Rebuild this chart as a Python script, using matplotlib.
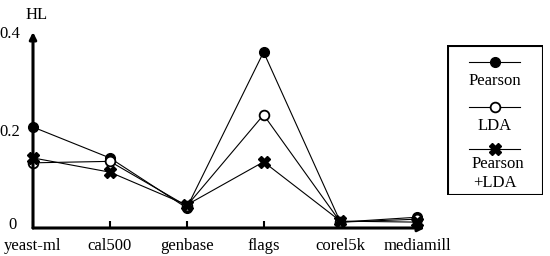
import matplotlib.pyplot as plt
import matplotlib.transforms as mtransforms
from matplotlib.lines import Line2D
from matplotlib.patches import Rectangle

plt.rcParams['font.family'] = ['Liberation Serif', 'DejaVu Serif']

datasets = ['yeast-ml', 'cal500', 'genbase', 'flags', 'corel5k', 'mediamill']
pearson = [0.206, 0.143, 0.041, 0.359, 0.012, 0.022]
lda = [0.133, 0.136, 0.045, 0.231, 0.012, 0.018]
pearson_lda = [0.143, 0.114, 0.047, 0.135, 0.014, 0.012]
y_ticks = [0, 0.2, 0.4]
y_ticklabels = ['0', '0.2', '0.4']

fig = plt.figure(figsize=(5.5, 2.56), dpi=100)
ax = fig.add_axes([33 / 550, 28 / 256, 392 / 550, 196 / 256])

x = list(range(len(datasets)))
ax.plot(x, pearson, color='black', lw=0.8, marker='o', ms=7,
        mfc='black', mec='black', clip_on=False, zorder=3)
ax.plot(x, lda, color='black', lw=0.8, marker='o', ms=7,
        mfc='white', mec='black', mew=1.3, clip_on=False, zorder=3)
ax.plot(x, pearson_lda, color='black', lw=0.8, marker='X', ms=8,
        mfc='black', mec='black', clip_on=False, zorder=3)

ax.set_xlim(0, 5.1)
ax.set_ylim(0, 0.4)
for s in ax.spines.values():
    s.set_visible(False)

# axis arrows
ax.annotate('', xy=(1, 0), xycoords='axes fraction', xytext=(0, 0),
            arrowprops=dict(arrowstyle='-|>', color='black', lw=2.2,
                            mutation_scale=10, shrinkA=0, shrinkB=0))
ax.annotate('', xy=(0, 1), xycoords='axes fraction', xytext=(0, 0),
            arrowprops=dict(arrowstyle='-|>', color='black', lw=2.2,
                            mutation_scale=10, shrinkA=0, shrinkB=0))

ax.set_xticks(x)
ax.set_xticklabels(datasets, fontsize=12)
ax.tick_params(axis='x', direction='in', length=5, width=1.5, pad=7)
ax.set_yticks(y_ticks)
ax.set_yticklabels(y_ticklabels, fontsize=12)
ax.tick_params(axis='y', length=0, pad=9)
# lift the "0" label a little so it clears "yeast-ml"
zero = ax.get_yticklabels()[0]
zero.set_transform(zero.get_transform() +
                   mtransforms.ScaledTranslation(-0.04, 0.05, fig.dpi_scale_trans))
ax.text(0.05, 0.435, 'HL', fontsize=12, ha='center', va='center',
        transform=ax.transData, clip_on=False)

# legend box drawn by hand (marker above label)
lg = fig.add_axes([447 / 550, 61 / 256, 96 / 550, 150 / 256])
lg.set_xlim(0, 96)
lg.set_ylim(150, 0)
lg.axis('off')
lg.add_patch(Rectangle((0.5, 0.5), 95, 149, fill=False, ec='black', lw=1.5))
lg.add_line(Line2D([22, 47.5, 73], [17, 17, 17], color='black', lw=0.8,
                   marker='o', ms=7, mfc='black', mec='black', markevery=[1]))
lg.add_line(Line2D([22, 47.5, 73], [62, 62, 62], color='black', lw=0.8,
                   marker='o', ms=7, mfc='white', mec='black', mew=1.3,
                   markevery=[1]))
lg.add_line(Line2D([22, 47.5, 73], [104, 104, 104], color='black', lw=0.8,
                   marker='X', ms=8, mfc='black', mec='black', markevery=[1]))
lg.text(48, 36, 'Pearson', fontsize=12, ha='center', va='center')
lg.text(48, 81, 'LDA', fontsize=12, ha='center', va='center')
lg.text(51, 119, 'Pearson', fontsize=12, ha='center', va='center')
lg.text(26, 138, '+LDA', fontsize=12, ha='left', va='center')

fig.savefig('out.png', dpi=100)
